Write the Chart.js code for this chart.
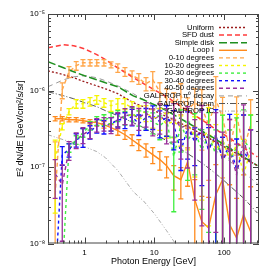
<!DOCTYPE html>
<html lang="en">
<head>
  <meta charset="UTF-8" />
  <title>Loop I spectrum</title>
  <script src="https://cdn.jsdelivr.net/npm/chart.js"></script>
  <style>
    html, body { margin: 0; padding: 0; background: #ffffff; }
    canvas { display: block; }
  </style>
</head>
<body>
  <canvas id="grafico" width="274" height="274"></canvas>

  <script>
    // energy bins of the measured points [GeV]
    const binE = [0.38, 0.48, 0.60, 0.76, 0.95, 1.2, 1.5, 1.9, 2.4, 3.0, 3.8, 4.8, 6.0, 7.6, 9.5,
                  12, 15, 19, 24, 30, 38, 48, 60, 76, 95, 120, 151, 190, 240];
    // energies where the model curves are sampled [GeV]
    const modelE = [0.3, 0.5, 0.7, 1, 1.5, 2, 3, 5, 7, 10, 15, 20, 30, 50, 70, 100, 150, 200, 300];

    // model templates, E^2 dN/dE
    const uniform    = [1.81e-6, 1.61e-6, 1.47e-6, 1.30e-6, 1.15e-6, 1.05e-6, 9.1e-7, 6.93e-7, 6.15e-7, 5.45e-7,
                        4.55e-7, 4.03e-7, 3.37e-7, 2.64e-7, 2.21e-7, 1.84e-7, 1.50e-7, 1.28e-7, 1.04e-7];
    const sfdDust    = [3.62e-6, 3.97e-6, 3.85e-6, 3.51e-6, 2.94e-6, 2.53e-6, 1.98e-6, 1.47e-6, 1.23e-6, 1.02e-6,
                        8.29e-7, 6.93e-7, 5.45e-7, 4.03e-7, 3.27e-7, 2.64e-7, 2.08e-7, 1.73e-7, 1.36e-7];
    const simpleDisk = [2.38e-6, 1.98e-6, 1.76e-6, 1.56e-6, 1.38e-6, 1.26e-6, 1.12e-6, 8.5e-7, 7.58e-7, 6.52e-7,
                        5.45e-7, 4.69e-7, 3.8e-7, 2.89e-7, 2.42e-7, 1.96e-7, 1.54e-7, 1.32e-7, 1.04e-7];
    const pi0Decay   = [1.12e-6, 1.38e-6, 1.51e-6, 1.56e-6, 1.47e-6, 1.34e-6, 1.15e-6, 9.1e-7, 7.58e-7, 6.15e-7,
                        4.83e-7, 4.03e-7, 3.07e-7, 2.21e-7, 1.73e-7, 1.36e-7, 1.01e-7, 8.18e-8, 6.05e-8];
    const brem       = [9.62e-7, 8.55e-7, 7.8e-7, 6.93e-7, 6.15e-7, 5.45e-7, 4.69e-7, 3.8e-7, 3.27e-7, 2.72e-7,
                        2.21e-7, 1.90e-7, 1.50e-7, 1.10e-7, 8.68e-8, 6.62e-8, 4.75e-8, 3.74e-8, 2.5e-8];
    const invCompton = [2.64e-7, 2.27e-7, 2.08e-7, 1.84e-7, 1.59e-7, 1.32e-7, 9.0e-8, 4.75e-8, 3.6e-8, 2.46e-8,
                        1.47e-8, 1.0e-8, 5.7e-9, null, null, null, null, null, null];

    // measured spectra and their errors
    const loopI    = [4.28e-7, 4.28e-7, 4.15e-7, 4.15e-7, 4.03e-7, 3.91e-7, 3.80e-7, 3.57e-7, 3.27e-7, 2.98e-7,
                      2.64e-7, 2.27e-7, 1.96e-7, 1.68e-7, 1.45e-7, 1.25e-7, 1.04e-7, 7.7e-8, 6.82e-8, 1.17e-7,
                      3.74e-8, 1.93e-8, 1.6e-8, 4.34e-8, 6.82e-8, 1.76e-8, 1.18e-8, 2.38e-8, 1.42e-8];
    const loopIErr = [2.7e-8, 2.7e-8, 2.6e-8, 2.6e-8, 2.5e-8, 2.4e-8, 3.6e-8, 3.4e-8, 3.1e-8, 3.8e-8,
                      3.4e-8, 3.7e-8, 3.2e-8, 3.3e-8, 3.4e-8, 3.4e-8, 3.2e-8, 2.7e-8, 3.0e-8, 6.1e-8,
                      3.1e-8, 2.2e-8, 2.4e-8, 6.4e-8, 7.6e-8, 4.1e-8, 2.7e-8, 5.5e-8, 4.1e-8];

    const deg0_10    = [4.34e-8, 1.02e-6, 1.76e-6, 2.11e-6, 2.31e-6, 2.31e-6, 2.31e-6, 2.31e-6, 2.17e-6, 1.98e-6,
                        1.76e-6, 1.56e-6, 1.43e-6, 1.23e-6, 1.38e-6, 9.62e-7, 7.8e-7, 6.72e-7, 8.55e-7, 5.61e-7,
                        6.93e-7, 5.96e-7, 3.57e-7, 7.58e-7, 4.42e-7, 1.68e-7, 4.83e-7, 1.68e-7, 3.57e-7];
    const deg0_10Err = [1.7e-7, 2.4e-7, 2.9e-7, 2.7e-7, 2.2e-7, 2.2e-7, 2.2e-7, 2.2e-7, 2.0e-7, 2.5e-7,
                        2.3e-7, 2.5e-7, 2.3e-7, 2.4e-7, 3.8e-7, 3.0e-7, 2.7e-7, 2.6e-7, 3.7e-7, 2.4e-7,
                        3.6e-7, 4.3e-7, 2.9e-7, 7.6e-7, 3.7e-7, 2.5e-7, 3.4e-7, 3.1e-7, 4.0e-7];

    const deg10_20    = [1.25e-7, 3.37e-7, 5.29e-7, 6.72e-7, 6.72e-7, 7.14e-7, 7.58e-7, 6.93e-7, 6.33e-7, 6.72e-7,
                         6.72e-7, 5.96e-7, 5.29e-7, 5.13e-7, 4.42e-7, 4.42e-7, 3.68e-7, 3.91e-7, 3.27e-7, 3.57e-7,
                         2.64e-7, 2.27e-7, 3.07e-7, 1.68e-7, 2.27e-7, 1.25e-7, 1.96e-7, 7.93e-8, 1.68e-7];
    const deg10_20Err = [1.0e-7, 3.2e-8, 5.0e-8, 8.6e-8, 8.6e-8, 9.1e-8, 9.7e-8, 8.9e-8, 1.0e-7, 1.1e-7,
                         1.1e-7, 1.2e-7, 1.0e-7, 1.2e-7, 1.2e-7, 1.4e-7, 1.3e-7, 1.5e-7, 1.4e-7, 1.9e-7,
                         1.9e-7, 1.9e-7, 2.9e-7, 1.9e-7, 2.5e-7, 1.8e-7, 2.9e-7, 1.5e-7, 3.1e-7];

    const deg20_30    = [3e-9, 4e-9, 1.79e-7, 2.27e-7, 2.81e-7, 3.47e-7, 4.03e-7, 4.15e-7, 4.42e-7, 4.69e-7,
                         4.42e-7, 4.98e-7, 4.42e-7, 4.15e-7, 3.91e-7, 3.47e-7, 4.15e-7, 1.36e-7, 3.57e-7, 2.27e-7,
                         2.89e-7, 1.68e-7, 2.64e-7, 1.45e-7, 2.27e-7, 1.25e-7, 1.79e-7, 2.27e-7, 1.68e-7];
    const deg20_30Err = [0, 0, 2.3e-8, 2.9e-8, 3.6e-8, 4.4e-8, 5.2e-8, 6.7e-8, 7.2e-8, 7.6e-8,
                         8.8e-8, 9.9e-8, 1.0e-7, 1.1e-7, 1.2e-7, 1.2e-7, 1.6e-7, 1.1e-7, 2.0e-7, 1.6e-7,
                         2.1e-7, 1.4e-7, 2.5e-7, 1.6e-7, 2.5e-7, 1.8e-7, 2.6e-7, 3.3e-7, 3.1e-7];

    const deg30_40    = [3e-9, 1.45e-7, 1.68e-7, 2.27e-7, 2.49e-7, 2.89e-7, 3.47e-7, 3.37e-7, 3.68e-7, 4.15e-7,
                         4.15e-7, 4.55e-7, 3.68e-7, 4.42e-7, 4.69e-7, 3.91e-7, 4.42e-7, 3.57e-7, 1.59e-7, 3.27e-7,
                         2.14e-7, 3.07e-7, 1.68e-7, 2.64e-7, 1.25e-7, 1.96e-7, 9.22e-8, 1.68e-7, 1.07e-7];
    const deg30_40Err = [0, 4.0e-8, 3.3e-8, 4.5e-8, 6.8e-8, 5.7e-8, 6.9e-8, 6.7e-8, 7.3e-8, 8.2e-8,
                         9.7e-8, 1.1e-7, 1.1e-7, 1.4e-7, 1.6e-7, 1.5e-7, 1.9e-7, 1.9e-7, 6.9e-8, 2.0e-7,
                         1.1e-7, 2.5e-7, 1.6e-7, 3.0e-7, 1.2e-7, 2.9e-7, 1.4e-7, 3.1e-7, 2.0e-7];

    const deg40_50    = [8.18e-8, 5.87e-8, 1.68e-7, 2.27e-7, 2.64e-7, 3.07e-7, 3.57e-7, 3.68e-7, 3.57e-7, 4.15e-7,
                         4.69e-7, 4.83e-7, 4.42e-7, 5.13e-7, 4.15e-7, 4.69e-7, 3.91e-7, 4.42e-7, 3.27e-7, 3.57e-7,
                         2.27e-7, 3.27e-7, 1.68e-7, 2.64e-7, 1.25e-7, 1.68e-7, 7.93e-8, 2.27e-7, 1.07e-7];
    const deg40_50Err = [4.3e-8, 4.8e-8, 4.6e-8, 5.3e-8, 6.2e-8, 7.2e-8, 7.1e-8, 7.3e-8, 8.4e-8, 9.7e-8,
                         1.1e-7, 1.3e-7, 1.4e-7, 1.8e-7, 1.6e-7, 2.0e-7, 1.9e-7, 2.3e-7, 2.0e-7, 2.6e-7,
                         1.9e-7, 3.1e-7, 1.9e-7, 2.5e-7, 1.6e-7, 2.5e-7, 1.2e-7, 4.2e-7, 2.0e-7];

    const fonte = '"Liberation Sans", Arial, sans-serif';

    function pontos(xs, ys) {
      return xs.map((e, i) => ({ x: e, y: ys[i] }));
    }

    function modelo(label, ys, cor, dash, largura) {
      return { label, data: pontos(modelE, ys), borderColor: cor, borderWidth: largura || 1,
               borderDash: dash, pointRadius: 0, fill: false, clip: 0 };
    }

    function medida(label, ys, erros, cor, dash) {
      return { label, data: pontos(binE, ys), err: erros, borderColor: cor, borderWidth: 1.4,
               borderDash: dash, pointRadius: 0, fill: false, clip: 0 };
    }

    // order here is also the legend order
    const datasets = [
      modelo('Uniform', uniform, '#9b1c1c', [2, 2], 1.3),
      modelo('SFD dust', sfdDust, '#ff3b3b', [5, 3], 1.5),
      modelo('Simple disk', simpleDisk, '#1f8f1f', [8, 3], 1.5),
      medida('Loop I', loopI, loopIErr, '#ff8a1c', []),
      medida('0-10 degrees', deg0_10, deg0_10Err, '#ffa64a', [4, 3]),
      medida('10-20 degrees', deg10_20, deg10_20Err, '#f5f500', [3, 3]),
      medida('20-30 degrees', deg20_30, deg20_30Err, '#3fee3f', [3, 3]),
      medida('30-40 degrees', deg30_40, deg30_40Err, '#1010ff', [3, 3]),
      medida('40-50 degrees', deg40_50, deg40_50Err, '#9a2f9a', [4, 3]),
      modelo('GALPROP \u03c0\u2070 decay', pi0Decay, '#999999', [5, 4], 1),
      modelo('GALPROP brem', brem, '#555555', [6, 2, 1, 2], 1),
      modelo('GALPROP IC', invCompton, '#aaaaaa', [4, 2, 1, 2, 1, 2], 1)
    ];

    // error bars, drawn through the chart scales
    const barras = {
      id: 'barras',
      afterDatasetsDraw(chart) {
        const { ctx, chartArea: a, scales: { x, y } } = chart;
        ctx.save();
        ctx.beginPath();
        ctx.rect(a.left, a.top, a.right - a.left, a.bottom - a.top);
        ctx.clip();
        chart.data.datasets.forEach(ds => {
          if (!ds.err) return;
          ctx.strokeStyle = ds.borderColor;
          ctx.lineWidth = 1.3;
          ctx.setLineDash([]);
          ds.data.forEach((p, i) => {
            const e = ds.err[i];
            if (!e || p.y == null) return;
            const px = x.getPixelForValue(p.x);
            const topo = y.getPixelForValue(p.y + e);
            const baixo = p.y - e;
            const pb = baixo > 0 ? y.getPixelForValue(baixo) : a.bottom + 5;
            ctx.beginPath();
            ctx.moveTo(px, topo); ctx.lineTo(px, pb);
            ctx.moveTo(px - 2.5, topo); ctx.lineTo(px + 2.5, topo);
            if (baixo > 0) { ctx.moveTo(px - 2.5, pb); ctx.lineTo(px + 2.5, pb); }
            ctx.stroke();
          });
        });
        ctx.restore();
      }
    };

    // box with inward major/minor ticks on all four sides
    const moldura = {
      id: 'moldura',
      afterDraw(chart) {
        const { ctx, chartArea: a, scales: { x, y } } = chart;
        ctx.save();
        ctx.strokeStyle = '#444444';
        ctx.lineWidth = 1;
        ctx.setLineDash([]);
        ctx.strokeRect(a.left + 0.5, a.top + 0.5, a.right - a.left - 1, a.bottom - a.top - 1);
        ctx.beginPath();
        for (let d = -1; d <= 2; d++) {
          for (let m = 1; m <= 9; m++) {
            const v = m * Math.pow(10, d);
            if (v < x.min || v > x.max) continue;
            const px = Math.round(x.getPixelForValue(v)) + 0.5;
            const len = m === 1 ? 6 : 3;
            ctx.moveTo(px, a.bottom); ctx.lineTo(px, a.bottom - len);
            ctx.moveTo(px, a.top); ctx.lineTo(px, a.top + len);
          }
        }
        for (let d = -8; d <= -5; d++) {
          for (let m = 1; m <= 9; m++) {
            const v = m * Math.pow(10, d);
            if (v < y.min * 0.999 || v > y.max * 1.001) continue;
            const py = Math.round(y.getPixelForValue(v)) + 0.5;
            const len = m === 1 ? 6 : 3;
            ctx.moveTo(a.left, py); ctx.lineTo(a.left + len, py);
            ctx.moveTo(a.right, py); ctx.lineTo(a.right - len, py);
          }
        }
        ctx.stroke();
        ctx.restore();
      }
    };

    // legend: right aligned text with the line sample on its right
    const legenda = {
      id: 'legenda',
      afterDraw(chart) {
        const ctx = chart.ctx;
        ctx.save();
        ctx.font = '7.7px ' + fonte;
        ctx.textAlign = 'right';
        ctx.textBaseline = 'middle';
        chart.data.datasets.forEach((ds, i) => {
          const yy = 27.5 + i * 7.6;
          ctx.fillStyle = '#000000';
          ctx.fillText(ds.label, 214, yy);
          ctx.strokeStyle = ds.borderColor;
          ctx.lineWidth = ds.borderWidth;
          ctx.setLineDash(ds.borderDash || []);
          ctx.beginPath();
          ctx.moveTo(219, yy); ctx.lineTo(247, yy);
          ctx.stroke();
        });
        ctx.restore();
      }
    };

    const sup = { '-': '\u207b', '0': '\u2070', '1': '\u00b9', '2': '\u00b2', '3': '\u00b3', '4': '\u2074',
                  '5': '\u2075', '6': '\u2076', '7': '\u2077', '8': '\u2078', '9': '\u2079' };

    new Chart(document.getElementById('grafico'), {
      type: 'line',
      data: { datasets },
      options: {
        responsive: false,
        animation: false,
        devicePixelRatio: 1,
        layout: { padding: { top: 14, right: 15, bottom: 0, left: 0 } },
        plugins: { legend: { display: false }, tooltip: { enabled: false } },
        elements: { line: { tension: 0 } },
        scales: {
          x: {
            type: 'logarithmic',
            min: 0.3,
            max: 316,
            afterFit(s) { s.height = 30.5; },
            afterBuildTicks(s) { s.ticks = [1, 10, 100].map(v => ({ value: v })); },
            grid: { display: false, drawTicks: false },
            border: { display: false },
            ticks: { color: '#000', font: { family: fonte, size: 8 }, padding: 4, maxRotation: 0,
                     autoSkip: false, callback: v => String(v) },
            title: { display: true, text: 'Photon Energy [GeV]', color: '#000',
                     font: { family: fonte, size: 9 }, padding: { top: 0, bottom: 6.6 } }
          },
          y: {
            type: 'logarithmic',
            min: 1e-8,
            max: 1e-5,
            afterFit(s) { s.width = 48; },
            afterBuildTicks(s) { s.ticks = [1e-8, 1e-7, 1e-6, 1e-5].map(v => ({ value: v })); },
            grid: { display: false, drawTicks: false },
            border: { display: false },
            ticks: { color: '#000', font: { family: fonte, size: 8 }, padding: 3, autoSkip: false,
                     callback: v => '10' + String(Math.round(Math.log10(v))).split('').map(c => sup[c]).join('') },
            title: { display: true, text: 'E\u00b2 dN/dE [GeV/cm\u00b2/s/sr]', color: '#000',
                     font: { family: fonte, size: 9 }, padding: { top: 15, bottom: 0 } }
          }
        }
      },
      plugins: [barras, moldura, legenda]
    });
  </script>
